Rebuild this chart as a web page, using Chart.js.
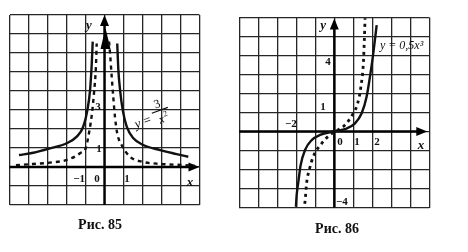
<!DOCTYPE html>
<html>
<head>
<meta charset="utf-8">
<script src="https://cdn.jsdelivr.net/npm/chart.js@4/dist/chart.umd.min.js"></script>
<style>
  html, body { margin: 0; padding: 0; background: #fff; }
  body { width: 468px; height: 252px; position: relative; overflow: hidden; }
  .fig { position: absolute; top: 0; width: 234px; height: 252px; }
</style>
</head>
<body>
<div class="fig" style="left:0"><canvas id="fig85" width="234" height="252"></canvas></div>
<div class="fig" style="left:234px"><canvas id="fig86" width="234" height="252"></canvas></div>
<script>
// Рис. 85 : две ветви сплошной кривой и две ветви пунктирной
const fig85SolidLeftX = [-4.5, -3.75, -2.87, -1.99, -1.46, -1.12, -0.9, -0.76, -0.67, -0.62];
const fig85SolidLeftY = [0.63, 0.75, 0.98, 1.25, 1.6, 2.12, 3.0, 4.05, 5.46, 6.6];
const fig85SolidRightX = [0.67, 0.73, 0.82, 0.96, 1.17, 1.52, 2.04, 2.92, 3.8, 4.41];
const fig85SolidRightY = [6.5, 5.1, 4.05, 3.0, 2.12, 1.51, 1.16, 0.89, 0.68, 0.54];
const fig85DashLeftX = [-4.66, -3.75, -2.87, -1.99, -1.29, -0.97, -0.85, -0.73, -0.62, -0.54, -0.46, -0.41];
const fig85DashLeftY = [0.1, 0.16, 0.23, 0.37, 0.72, 1.04, 1.6, 2.3, 3.17, 4.05, 5.1, 6.5];
const fig85DashRightX = [0.24, 0.29, 0.38, 0.46, 0.55, 0.67, 0.9, 1.34, 1.96, 3.0, 4.15, 4.76];
const fig85DashRightY = [6.6, 6.0, 4.75, 3.7, 2.65, 1.77, 1.16, 0.54, 0.28, 0.16, 0.1, 0.06];

// Рис. 86 : сплошная y = 0,5x³ и пунктир
const fig86SolidX = [-2.02, -1.98, -1.89, -1.77, -1.54, -1.19, -0.75, -0.05, 0.56, 1.09, 1.44, 1.7, 1.88, 2.05, 2.23];
const fig86SolidY = [-3.96, -3.34, -2.64, -1.76, -0.97, -0.45, -0.18, 0, 0.12, 0.43, 0.96, 1.83, 2.9, 4.1, 5.6];
const fig86DashX = [-1.56, -1.54, -1.46, -1.32, -1.11, -0.66, -0.23, 0.13, 0.56, 1.0, 1.23, 1.4, 1.53, 1.58, 1.62];
const fig86DashY = [-3.8, -3.69, -2.73, -2.03, -1.33, -0.62, -0.18, 0.04, 0.34, 0.96, 1.48, 2.36, 3.6, 4.8, 5.96];

// подписи делений
const fig85XTicks = [-1, 0, 1];
const fig85YTicks = [1, 3];
const fig86XTicks = [-2, 0, 1, 2];
const fig86YTicks = [1, 4, -4];

function pts(xs, ys) {
  return xs.map((v, i) => ({ x: v, y: ys[i] }));
}

function label(v) {
  return v < 0 ? '\u2212' + Math.abs(v) : String(v);
}

const NUM_FONT = 'bold 11px "Liberation Serif", "DejaVu Serif", serif';
const VAR_FONT = 'bold italic 13px "Liberation Serif", "DejaVu Serif", serif';
const CAP_FONT = 'bold 14px "Liberation Serif", "DejaVu Serif", serif';

function solid(data) {
  return { data: data, borderColor: '#111', borderWidth: 2.4, pointRadius: 0, showLine: true, cubicInterpolationMode: 'monotone', fill: false };
}
function dashed(data, dash, width) {
  return { data: data, borderColor: '#111', borderWidth: width, borderDash: dash, borderCapStyle: 'butt', pointRadius: 0, showLine: true, cubicInterpolationMode: 'monotone', fill: false };
}

function gridAxis(min, max) {
  return {
    type: 'linear', min: min, max: max,
    ticks: { display: false, stepSize: 1 },
    grid: { color: '#262626', lineWidth: 1.3, drawTicks: false },
    border: { display: false }
  };
}

// оси со стрелками, подписи, формулы
const paperPlugin = {
  id: 'paper',
  beforeDatasetsDraw(chart, args, opts) {
    const ctx = chart.ctx, a = chart.chartArea;
    const x0 = chart.scales.x.getPixelForValue(0);
    const y0 = chart.scales.y.getPixelForValue(0);
    ctx.save();
    ctx.strokeStyle = '#000';
    ctx.fillStyle = '#000';
    ctx.lineWidth = 2.4;
    const xr = a.right - opts.xArrowInset;
    const yt = a.top + opts.yArrowInset;
    ctx.beginPath();
    ctx.moveTo(a.left, y0); ctx.lineTo(xr - 6, y0);
    ctx.moveTo(x0, a.bottom); ctx.lineTo(x0, yt + 6);
    ctx.stroke();
    ctx.beginPath();
    ctx.moveTo(xr, y0); ctx.lineTo(xr - 11, y0 - 4.5); ctx.lineTo(xr - 11, y0 + 4.5); ctx.closePath();
    ctx.moveTo(x0, yt); ctx.lineTo(x0 - 4.5, yt + 11); ctx.lineTo(x0 + 4.5, yt + 11); ctx.closePath();
    ctx.fill();
    if (opts.blob) {
      ctx.beginPath();
      ctx.moveTo(x0 + 1, a.top + 13);
      ctx.lineTo(x0 - 4, a.top + 34);
      ctx.lineTo(x0 + 6, a.top + 34);
      ctx.closePath();
      ctx.fill();
    }
    ctx.restore();
  },
  afterDraw(chart, args, opts) {
    const ctx = chart.ctx;
    const sx = chart.scales.x, sy = chart.scales.y;
    ctx.save();
    ctx.fillStyle = '#111';
    ctx.textBaseline = 'middle';
    opts.texts.forEach(t => {
      ctx.font = t.font;
      ctx.textAlign = t.align || 'center';
      ctx.fillText(t.text, sx.getPixelForValue(t.x), sy.getPixelForValue(t.y));
    });
    ctx.save();
    if (opts.formula) opts.formula(ctx, sx, sy);
    ctx.restore();
    ctx.font = CAP_FONT;
    ctx.textAlign = 'center';
    ctx.fillText(opts.caption.text, opts.caption.px, opts.caption.py);
    ctx.restore();
  }
};

function makeChart(id, datasets, xr, yr, pad, plug) {
  return new Chart(document.getElementById(id), {
    type: 'scatter',
    data: { datasets: datasets },
    options: {
      responsive: false,
      animation: false,
      layout: { padding: pad },
      scales: { x: gridAxis(xr[0], xr[1]), y: gridAxis(yr[0], yr[1]) },
      plugins: { legend: { display: false }, tooltip: { enabled: false }, paper: plug }
    },
    plugins: [paperPlugin]
  });
}

// Рис. 85
const fig85Texts = [
  { text: 'y', x: -0.82, y: 7.45, font: VAR_FONT },
  { text: 'x', x: 4.5, y: -0.8, font: VAR_FONT },
  { text: label(fig85XTicks[0]), x: -1.34, y: -0.63, font: NUM_FONT },
  { text: label(fig85XTicks[1]), x: -0.39, y: -0.63, font: NUM_FONT },
  { text: label(fig85XTicks[2]), x: 1.18, y: -0.66, font: NUM_FONT },
  { text: label(fig85YTicks[0]), x: -0.29, y: 0.95, font: NUM_FONT },
  { text: label(fig85YTicks[1]), x: -0.34, y: 3.16, font: NUM_FONT }
];

makeChart('fig85', [
  solid(pts(fig85SolidLeftX, fig85SolidLeftY)),
  solid(pts(fig85SolidRightX, fig85SolidRightY)),
  dashed(pts(fig85DashLeftX, fig85DashLeftY), [4, 4], 2.4),
  dashed(pts(fig85DashRightX, fig85DashRightY), [4, 4], 2.4)
], [-5, 5], [-2, 8], { left: 9.5, right: 34.5, top: 15, bottom: 47 }, {
  xArrowInset: 0, yArrowInset: 0, blob: true,
  texts: fig85Texts,
  caption: { text: 'Рис. 85', px: 100, py: 225 },
  formula(ctx, sx, sy) {
    ctx.translate(sx.getPixelForValue(1.75), sy.getPixelForValue(2.25));
    ctx.rotate(-0.35);
    ctx.font = 'italic 13px "Liberation Serif", serif';
    ctx.textAlign = 'center';
    ctx.fillText('y', 0, 0);
    ctx.fillText('=', 10, 0);
    ctx.font = '12px "Liberation Serif", serif';
    ctx.fillText('3', 25, -12);
    ctx.font = 'italic 12px "Liberation Serif", serif';
    ctx.fillText('x', 24, 4);
    ctx.font = '8px "Liberation Serif", serif';
    ctx.fillText('2', 29.5, 0);
    ctx.lineWidth = 1.2;
    ctx.strokeStyle = '#111';
    ctx.beginPath(); ctx.moveTo(17, -5.5); ctx.lineTo(34, -5.5); ctx.stroke();
  }
});

// Рис. 86
const fig86Texts = [
  { text: 'y', x: -0.59, y: 5.55, font: VAR_FONT },
  { text: 'x', x: 4.56, y: -0.72, font: VAR_FONT },
  { text: label(fig86XTicks[0]), x: -2.28, y: 0.4, font: NUM_FONT },
  { text: label(fig86XTicks[1]), x: 0.3, y: -0.55, font: NUM_FONT },
  { text: label(fig86XTicks[2]), x: 1.2, y: -0.55, font: NUM_FONT },
  { text: label(fig86XTicks[3]), x: 2.25, y: -0.55, font: NUM_FONT },
  { text: label(fig86YTicks[0]), x: -0.59, y: 1.3, font: NUM_FONT },
  { text: label(fig86YTicks[1]), x: -0.33, y: 3.66, font: NUM_FONT },
  { text: label(fig86YTicks[2]), x: 0.4, y: -3.72, font: NUM_FONT }
];

makeChart('fig86', [
  solid(pts(fig86SolidX, fig86SolidY)),
  dashed(pts(fig86DashX, fig86DashY), [3, 4], 2.8)
], [-5, 5], [-4, 6], { left: 5.3, right: 38.7, top: 17.5, bottom: 44.5 }, {
  xArrowInset: 2, yArrowInset: 1, blob: false,
  texts: fig86Texts,
  caption: { text: 'Рис. 86', px: 103, py: 229 },
  formula(ctx, sx, sy) {
    ctx.font = 'italic 12px "Liberation Serif", serif';
    ctx.textAlign = 'left';
    ctx.fillText('y = 0,5x\u00B3', sx.getPixelForValue(2.4), sy.getPixelForValue(4.5));
  }
});
</script>
</body>
</html>
